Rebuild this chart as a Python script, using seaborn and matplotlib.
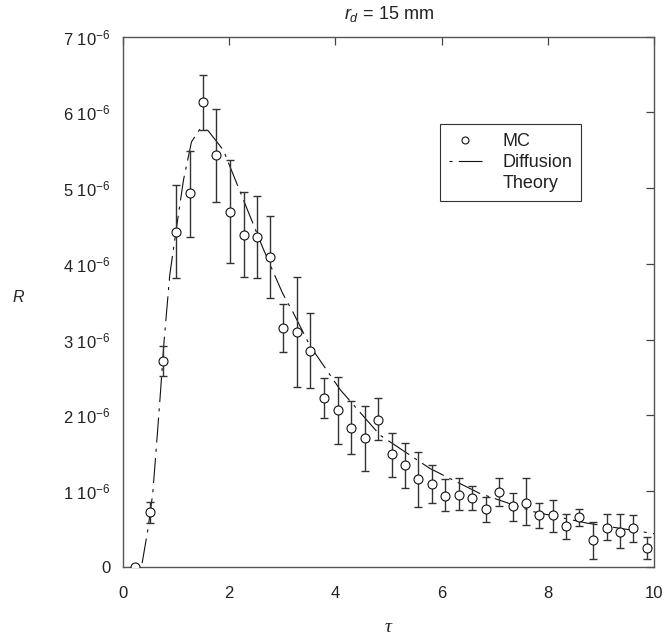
import numpy as np
import pandas as pd
import matplotlib
matplotlib.use("Agg")
import matplotlib.pyplot as plt
from matplotlib.lines import Line2D
import seaborn as sns

# ---- data (R in units of 1e-6) ----
tau_mc = [0.23, 0.50, 0.75, 1.00, 1.26, 1.51, 1.76, 2.02, 2.27, 2.52, 2.77, 3.02, 3.28,
          3.53, 3.79, 4.04, 4.29, 4.56, 4.80, 5.06, 5.31, 5.56, 5.81, 6.06, 6.32, 6.57,
          6.83, 7.08, 7.34, 7.59, 7.84, 8.09, 8.34, 8.59, 8.86, 9.11, 9.36, 9.61, 9.86]
R_mc = [0.00, 0.72, 2.72, 4.42, 4.93, 6.13, 5.43, 4.69, 4.38, 4.35, 4.09, 3.16, 3.10,
        2.85, 2.23, 2.07, 1.84, 1.70, 1.94, 1.49, 1.35, 1.16, 1.10, 0.94, 0.95, 0.91,
        0.76, 0.99, 0.80, 0.85, 0.68, 0.68, 0.54, 0.66, 0.35, 0.52, 0.46, 0.51, 0.25]
R_mc_hi = [0.00, 0.86, 2.92, 5.04, 5.49, 6.49, 6.04, 5.37, 4.95, 4.89, 4.63, 3.47, 3.83,
           3.35, 2.50, 2.51, 2.19, 2.13, 2.23, 1.77, 1.64, 1.52, 1.35, 1.16, 1.17, 1.07,
           0.93, 1.17, 0.98, 1.17, 0.85, 0.88, 0.70, 0.77, 0.60, 0.70, 0.70, 0.69, 0.39]
R_mc_lo = [0.00, 0.58, 2.52, 3.81, 4.35, 5.77, 4.82, 4.01, 3.82, 3.81, 3.55, 2.84, 2.37,
           2.36, 1.97, 1.62, 1.49, 1.27, 1.67, 1.19, 1.04, 0.79, 0.85, 0.74, 0.75, 0.75,
           0.59, 0.80, 0.61, 0.55, 0.51, 0.46, 0.37, 0.54, 0.10, 0.36, 0.25, 0.33, 0.11]

tau_dt = [0.36, 0.47, 0.56, 0.63, 0.70, 0.77, 0.88, 1.01, 1.14, 1.29, 1.45, 1.60, 1.89,
          2.27, 2.64, 3.00, 3.21, 3.52, 4.09, 4.84, 5.78, 6.72, 7.73, 8.73, 10.0]
R_dt = [0.05, 0.50, 0.97, 1.60, 2.25, 2.95, 3.85, 4.49, 5.11, 5.61, 5.78, 5.76, 5.50,
        4.84, 4.20, 3.62, 3.35, 2.92, 2.34, 1.74, 1.30, 0.97, 0.73, 0.58, 0.44]

ytick_vals = [0, 1, 2, 3, 4, 5, 6, 7]
ytick_labels = ["0"] + [f"{v} 10$^{{-6}}$" for v in ytick_vals[1:]]
xtick_vals = [0, 2, 4, 6, 8, 10]
xtick_labels = ["0", "2", "4", "6", "8", "10"]

# ---- style ----
sns.set_style("white")
plt.rcParams['font.family'] = ['Liberation Sans', 'DejaVu Sans']
plt.rcParams['mathtext.fontset'] = 'custom'
plt.rcParams['mathtext.rm'] = 'Liberation Sans'
plt.rcParams['mathtext.it'] = 'Liberation Sans:italic'
plt.rcParams['mathtext.default'] = 'regular'
plt.rcParams['lines.scale_dashes'] = False

txt = '#222222'
dash_pat = [18, 4.5, 2.2, 4.5]
fig = plt.figure(figsize=(6.65, 6.37), dpi=100)
ax = fig.add_axes([123/665, 1-567/637, (654-123)/665, (567-36.5)/637])

df_mc = pd.DataFrame({'tau': tau_mc, 'R': R_mc, 'lo': R_mc_lo, 'hi': R_mc_hi})
df_dt = pd.DataFrame({'tau': tau_dt, 'R': R_dt})

sns.lineplot(data=df_dt, x='tau', y='R', ax=ax, color='#111111', linewidth=0.8,
             sort=False, legend=False)
ax.lines[-1].set_dashes(dash_pat)

yerr = np.array([np.array(R_mc) - np.array(R_mc_lo), np.array(R_mc_hi) - np.array(R_mc)])
ax.errorbar(tau_mc, R_mc, yerr=yerr, fmt='none', ecolor='#333333', elinewidth=1.0,
            capsize=2.8, capthick=1.0, zorder=2)
sns.scatterplot(data=df_mc, x='tau', y='R', ax=ax, marker='o', s=42,
                facecolor='white', edgecolor='#111111', linewidth=0.8, zorder=3,
                legend=False)

ax.set_xlim(0, 10)
ax.set_ylim(0, 7)
ax.set_xticks(xtick_vals)
ax.set_xticklabels(xtick_labels)
ax.set_yticks(ytick_vals)
ax.set_yticklabels(ytick_labels)
ax.tick_params(direction='in', length=5.8, width=0.9, colors='#444444',
               labelcolor=txt, labelsize=12, top=True, right=True,
               labeltop=False, labelright=False)
ax.tick_params(axis='x', pad=13.5)
ax.tick_params(axis='y', pad=9)
for s in ax.spines.values():
    s.set_color('#555555')
    s.set_linewidth(1.0)

ax.set_xlabel('τ', fontsize=14, color=txt, family='Liberation Serif', style='italic')
ax.xaxis.label.set_verticalalignment('baseline')
ax.xaxis.set_label_coords(0.5, -(632-567)/530.5)
ax.set_ylabel('R', fontsize=11.5, color=txt, style='italic', rotation=0,
              ha='center', va='center')
ax.yaxis.set_label_coords((18-123)/531, (567-297)/530.5)
ax.set_title('$\\mathit{r}_{\\mathit{d}}$ = 15 mm', fontsize=13, color=txt, pad=12.5)

# legend
h_mc = Line2D([], [], linestyle='none', marker='o', markersize=5, markerfacecolor='white',
              markeredgecolor='#111111', markeredgewidth=0.8)
h_dt = Line2D([], [], color='#111111', linewidth=0.8,
              linestyle=(dash_pat[0] + dash_pat[1], dash_pat))
h_blank = Line2D([], [], linestyle='none', marker=None)
leg = ax.legend([h_mc, h_dt, h_blank], ['MC', 'Diffusion', 'Theory'],
                loc='upper left', bbox_to_anchor=(0.597, 0.835), fontsize=13,
                frameon=True, fancybox=False, edgecolor='#333333', framealpha=1,
                handlelength=1.8, borderpad=0.5, labelspacing=0.22, handletextpad=1.15,
                borderaxespad=0)
leg.get_frame().set_linewidth(0.8)
for t in leg.get_texts():
    t.set_color(txt)

fig.savefig('out.png', dpi=100)
